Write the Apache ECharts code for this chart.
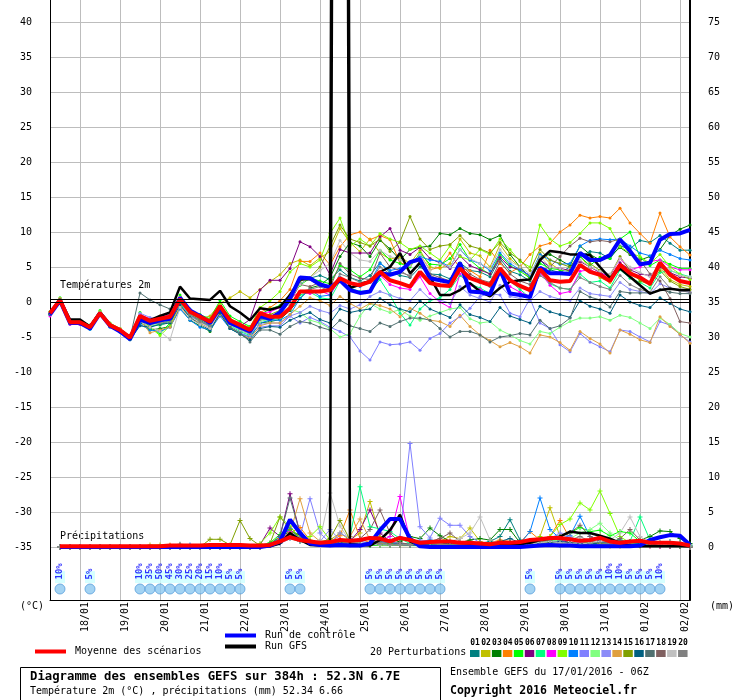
<!DOCTYPE html>
<html>
<head>
<meta charset="utf-8">
<title>Diagramme des ensembles GEFS</title>
<script src="https://cdn.jsdelivr.net/npm/echarts@6/dist/echarts.min.js"></script>
<style>
html,body{margin:0;padding:0;background:#fff;}
#chart{width:740px;height:700px;}
</style>
</head>
<body>
<div id="chart"></div>
<script>
// ---------- axes / ticks ----------
const days = ['17/01','18/01','19/01','20/01','21/01','22/01','23/01','24/01','25/01','26/01','27/01','28/01','29/01','30/01','31/01','01/02','02/02'];
const hours = ['00Z','06Z','12Z','18Z'];
const tempTicks = [-35,-30,-25,-20,-15,-10,-5,0,5,10,15,20,25,30,35,40];
const precipTicks = [0,5,10,15,20,25,30,35,40,45,50,55,60,65,70,75];
const zeroLines = [0, 0.36];

// ---------- main runs (temperature, °C) ----------
const meanTemp = [-1.6,0.3,-2.9,-2.9,-3.6,-1.6,-3.3,-4.0,-5.1,-2.0, -2.7,-2.4,-2.1,0.4,-1.4,-2.1,-2.8,-0.6,-2.6,-3.3, -4.0,-1.6,-2.1,-2.1,-0.9,1.5,1.5,1.5,1.7,3.4, 2.7,2.4,2.9,4.3,3.1,2.7,2.2,4.3,2.7,2.4, 2.3,4.8,3.4,2.9,2.4,4.8,3.1,2.3,1.7,4.7, 3.1,2.9,3.0,5.3,4.3,3.9,3.0,5.3,4.1,3.5, 2.6,5.6,3.9,3.0,2.7];
const controlTemp = [-1.8,0.2,-3.0,-3.0,-3.8,-1.6,-3.4,-4.2,-5.3,-2.5,-3.0,-2.6,-2.4,0.6,-1.2,-2.0,-3.0,-0.8,-3.0,-3.6,-4.2, -2.0,-2.4,-1.5,0.5,3.5,3.4,2.5,2.1,3.1,1.7,1.3,1.5,4.1,3.9,4.3,5.7,6.1,3.4,3.1,2.8, 5.6,1.5,1.4,1.1,4.6,1.2,1.0,0.7,4.9,4.1,4.1,4.0,7.0,6.0,6.0,6.7,8.9,7.3,5.4,5.6,8.9,9.7,9.8,10.3];
const gfsTemp = [-1.5,0.4,-2.5,-2.5,-3.5,-1.5,-3.3,-4.0,-5.0,-2.2,-2.6,-2.0,-1.5,2.2,0.5,0.4,0.3,1.6,-0.6,-1.5,-2.6, -0.9,-1.1,-0.7,1.0,3.2,3.3,2.5,2.0,400,2.0,2.5,3.0,4.3,5.0,7.0,4.1,5.6,3.6,1.0,1.0, 1.7,2.7,1.5,0.8,2.0,2.9,3.1,3.2,6.0,7.3,7.1,6.8,6.8,6.7,5.0,3.4,4.8,3.6,2.4,1.2,1.7,1.9,1.7,1.7];

// ---------- main runs (precipitation, mm) ----------
const meanPrecip = [null, 0.1,0.1,0.1,0.1,0.1,0.1,0.1,0.1,0.1,0.1, 0.1,0.2,0.2,0.2,0.2,0.3,0.3,0.3,0.3,0.2, 0.2,0.3,0.8,1.4,1.0,0.8,0.6,0.7,1.0,0.9, 1.0,1.3,1.2,0.8,1.3,1.0,0.6,0.7,0.8,0.8, 0.6,0.6,0.5,0.4,0.6,0.6,0.7,1.0,1.1,1.3, 1.3,1.1,0.9,1.0,1.3,0.8,0.6,0.8,0.9,0.6, 0.6,0.6,0.5,0.2];
const controlPrecip = [null, 0,0,0,0,0,0,0,0,0,0, 0,0,0,0,0,0,0,0,0,0, 0,0.2,0.8,3.9,2.0,0.5,0.3,0.2,0.3,0.2, 0.2,0.5,2.4,4.0,4.0,1.2,0.1,0,0,0, 0,0,0,0,0,0,0,0.1,0.2,0.3, 0.2,0.2,0.1,0.1,0.1,0.1,0.1,0.1,0.2,1.0, 1.4,1.7,1.6,0.3];
const gfsPrecip = [null, 0,0,0,0,0,0,0,0,0,0, 0,0,0,0,0,0,0,0,0,0, 0,0.1,0.5,2.0,1.0,0.3,0.2,0.4,400,0.4, 0.3,0.2,1.0,2.4,4.6,0.8,0.2,0.1,0.1,0.1, 0.1,0.2,0.2,0.2,0.3,0.3,0.4,0.6,1.0,1.2, 1.5,2.2,2.0,2.0,1.6,1.2,0.6,0.2,0.1,0.1, 0.1,0.1,0.1,0.1];

// ---------- 20 perturbations (temperature) ----------
const pert01Temp = [-1.7,0.2,-3.1,-3.2,-3.9,-1.8,-3.5,-4.2,-5.3,-3.0,-3.5,-3.2,-2.8,0.0,-1.0,-2.3,-3.4,-1.0,-3.2,-4.0,-4.6, -2.4,-2.0,-1.8,0.5,2.6,3.4,3.8,3.2,4.6,3.5,3.0,3.8,5.6,4.2,3.8,3.5,5.0,4.0,3.9,3.3, 5.6,4.5,4.3,3.6,6.2,4.4,3.9,3.0,6.0,4.6,4.2,5.0,6.5,7.2,7.0,6.2,8.0,7.6,8.8,8.5,9.5,8.4,7.4,7.4];
const pert02Temp = [-1.5,0.4,-2.8,-2.8,-3.4,-1.5,-3.2,-3.9,-4.9,-2.4,-3.2,-2.6,-1.8,0.8,-1.6,-2.4,-2.0,-0.2,0.6,1.5,0.6, 1.8,2.9,3.9,5.5,6.0,5.2,6.3,7.2,10.5,8.5,7.2,9.0,7.0,6.1,6.5,5.5,7.4,5.0,4.8,5.5, 9.0,7.0,6.6,5.0,8.2,6.2,5.0,3.2,7.0,5.5,4.6,4.5,6.6,4.8,3.5,2.8,5.3,3.9,3.2,2.5,5.0,3.2,2.5,2.2];
const pert03Temp = [-1.6,0.3,-3.0,-3.0,-3.6,-1.7,-3.4,-4.1,-5.2,-2.8,-4.0,-3.8,-3.5,-0.8,-2.6,-3.4,-4.2,-1.6,-3.8,-4.5,-5.0, -3.0,-2.8,-2.5,-1.2,0.5,2.0,2.4,3.5,6.5,8.5,8.0,6.5,8.8,7.6,6.0,7.5,7.8,8.0,9.8,9.6, 10.5,9.8,9.6,8.9,9.5,6.8,5.0,3.5,6.5,6.8,6.0,5.2,8.0,6.8,6.0,6.5,7.8,6.8,6.0,6.5,7.5,9.5,10.4,11.0];
const pert04Temp = [-1.6,0.3,-2.9,-3.0,-3.7,-1.5,-3.2,-4.0,-5.1,-2.2,-2.8,-2.0,-2.4,0.2,-1.8,-2.6,-3.0,-0.4,-2.4,-3.0,-3.8, -1.5,-0.8,0.2,1.8,5.8,5.8,7.0,5.3,7.9,9.6,10.0,8.9,9.5,8.9,5.6,5.2,6.8,4.6,5.0,7.0, 4.8,4.5,3.6,7.4,5.5,4.2,5.0,6.8,8.0,8.4,10.0,11.0,12.4,12.0,12.2,12.0,13.4,11.3,9.8,8.4,12.7,9.3,7.9,6.7];
const pert05Temp = [-1.4,0.6,-2.6,-2.7,-3.3,-1.2,-3.0,-3.8,-4.9,-1.5,-3.8,-4.5,-3.0,1.0,-1.2,-1.8,-2.4,0.2,-2.0,-2.8,-3.5, -1.8,-1.0,-0.5,0.8,2.4,3.4,3.0,2.6,5.2,4.6,3.6,4.6,7.4,6.0,5.5,5.0,7.0,5.4,5.3,6.2, 8.2,6.0,4.8,4.0,6.8,5.2,4.4,3.4,5.5,4.8,4.6,4.4,6.5,5.2,6.4,6.2,9.0,10.0,6.4,5.2,6.0,5.4,4.8,4.8];
const pert06Temp = [-1.6,0.3,-2.9,-2.9,-3.6,-1.6,-3.3,-4.0,-5.1,-2.2,-2.9,-2.5,-2.2,0.3,-1.4,-2.2,-2.9,-0.6,-2.8,-3.5,-2.5, 1.7,3.1,3.1,4.8,8.6,7.9,6.5,3.9,7.5,7.0,7.0,7.0,9.3,10.5,7.4,6.8,7.8,6.2,5.6,4.8, 6.6,5.2,4.6,4.0,6.4,5.0,4.6,3.8,6.0,5.0,4.8,4.5,5.8,5.0,4.2,3.6,5.6,4.6,4.0,3.8,5.0,4.2,3.6,3.4];
const pert07Temp = [-1.7,0.2,-3.0,-3.1,-3.8,-1.8,-3.5,-4.1,-5.2,-2.6,-3.0,-3.2,-2.6,-0.2,-2.0,-2.8,-3.5,-1.2,-3.4,-4.2,-4.8, -2.5,-2.6,-2.3,-0.8,1.0,1.4,0.6,0.4,3.0,2.0,1.5,1.6,3.2,1.0,-1.6,-3.3,-1.0,0.2,0.6,1.8, 3.8,2.6,2.0,1.2,4.6,3.0,1.8,0.6,4.2,2.6,2.0,1.8,4.0,2.8,3.0,2.0,4.6,3.4,2.8,2.0,4.2,4.5,4.0,3.6];
const pert08Temp = [-2.0,0.0,-3.2,-3.2,-3.8,-1.8,-3.5,-4.2,-5.3,-1.8,-2.4,-2.2,-1.8,0.6,-1.2,-1.9,-2.6,-0.4,-2.4,-3.1,-3.8, -1.6,-1.4,-0.8,0.6,1.4,1.2,1.6,1.0,3.2,1.8,1.3,1.5,3.8,2.5,2.0,1.8,3.6,1.2,0.0,-0.8, 4.0,2.4,1.8,1.0,4.0,2.2,1.4,0.8,4.2,2.4,1.2,1.5,4.4,4.6,4.0,3.8,6.2,4.6,5.0,5.8,6.0,5.0,4.6,4.6];
const pert09Temp = [-1.4,0.5,-2.7,-2.8,-3.5,-1.4,-3.1,-3.8,-5.0,-2.6,-3.6,-4.8,-3.4,0.0,-1.5,-2.0,-2.5,-0.2,-2.4,-3.2,-3.6, -0.8,0.2,1.5,4.3,5.5,5.0,6.0,9.8,12.0,8.0,9.0,8.0,9.8,9.0,8.5,7.5,8.0,7.0,6.0,8.0, 6.5,6.0,7.5,6.8,9.0,7.5,5.8,5.0,11.0,9.0,8.0,8.5,9.8,11.3,11.3,10.5,7.9,7.0,6.5,5.5,6.8,5.0,4.0,3.2];
const pert10Temp = [-1.8,0.1,-3.1,-3.1,-3.9,-1.9,-3.6,-4.3,-5.4,-3.2,-4.0,-4.2,-3.6,-1.0,-2.6,-3.6,-4.0,-2.0,-3.8,-4.5,-5.0, -3.0,-2.6,-2.6,-1.8,0.5,1.8,0.8,1.0,3.5,2.6,2.2,2.8,5.5,4.5,4.8,5.6,6.5,6.0,5.8,5.0, 7.5,6.0,5.5,4.5,7.0,5.5,4.6,3.8,6.8,6.0,5.4,5.5,8.0,8.8,9.0,8.9,9.0,8.0,7.0,6.6,7.4,6.8,6.2,6.0];
const pert11Temp = [-1.7,0.2,-3.0,-3.0,-3.7,-1.7,-3.4,-4.1,-5.2,-2.0,-2.8,-2.6,-2.6,-0.4,-2.0,-2.8,-3.6,-1.4,-3.6,-4.4,-5.0, -3.6,-3.4,-3.4,-2.0,-3.0,-2.2,-2.8,-3.6,-4.2,-5.0,-7.0,-8.3,-5.7,-6.1,-6.0,-5.7,-6.9,-5.2,-4.5,-3.0, -2.1,-0.9,0.8,1.2,1.0,-1.6,-2.1,0.5,-3.0,-3.8,-6.1,-7.1,-4.5,-5.7,-6.4,-7.1,-4.0,-4.2,-5.0,-5.7,-2.8,-3.3,-4.7,-5.7];
const pert12Temp = [-1.5,0.4,-2.8,-2.9,-3.5,-1.5,-3.2,-3.9,-5.0,-2.2,-3.2,-3.4,-2.8,0.2,-1.8,-2.6,-3.2,-0.8,-2.8,-3.6,-4.2, -2.8,-2.4,-2.2,-1.0,-1.5,-2.6,-3.0,-3.8,-5.0,-4.5,-2.0,-0.2,-1.0,-1.5,-1.1,-2.0,-2.6,-2.0,-1.5,-1.0, -0.8,-2.4,-3.0,-2.8,-4.0,-4.7,-5.5,-6.0,-4.2,-4.5,-3.6,-2.8,-2.3,-2.3,-2.1,-2.6,-1.9,-2.2,-3.0,-3.8,-2.3,-3.2,-4.5,-5.0];
const pert13Temp = [-1.6,0.3,-2.9,-2.9,-3.6,-1.6,-3.3,-4.0,-5.1,-1.6,-2.2,-2.5,-2.3,0.2,-1.6,-2.2,-2.8,-1.0,-3.0,-3.8,-4.5, -3.2,-3.0,-3.0,-2.0,-1.5,-0.6,-1.2,-1.6,-0.5,-1.0,-0.4,0.8,1.5,1.0,0.5,0.2,1.8,0.4,0.3,-0.2, 2.2,1.0,0.5,0.0,2.4,0.8,0.5,0.2,1.5,0.8,0.4,0.2,2.0,1.2,1.0,0.8,2.8,1.8,1.5,1.2,2.6,2.0,1.6,1.4];
const pert14Temp = [-1.5,0.5,-2.7,-2.8,-3.4,-1.4,-3.1,-3.8,-4.9,-2.6,-4.4,-4.0,-3.6,-0.6,-2.2,-3.0,-3.8,-1.8,-3.6,-4.6,-5.2, -3.4,-3.0,-3.0,-1.8,-0.6,0.6,0.2,-0.5,0.8,-0.2,-1.0,-0.2,-0.5,-1.0,-2.1,-0.9,-1.6,-2.6,-2.8,-3.5, -1.9,-3.5,-4.7,-5.5,-6.4,-5.8,-6.4,-7.3,-4.7,-5.0,-5.8,-6.9,-4.2,-5.2,-6.0,-7.3,-4.0,-4.6,-5.4,-5.8,-2.1,-3.5,-4.6,-5.9];
const pert15Temp = [-1.6,0.4,-2.8,-2.8,-3.5,-1.5,-3.2,-3.9,-5.0,-2.0,-2.8,-2.8,-2.6,0.0,-1.6,-2.4,-3.0,-0.8,-3.0,-3.6,-4.2, -2.2,-1.8,-1.2,1.0,3.0,3.5,5.0,8.0,11.0,9.0,8.5,8.0,9.0,7.2,8.6,12.2,9.0,7.5,8.0,8.2, 9.5,8.0,7.6,7.0,8.5,7.0,6.0,4.5,7.5,6.0,5.5,5.0,7.0,5.5,4.5,3.8,6.5,4.5,3.0,2.5,4.5,3.0,2.2,1.8];
const pert16Temp = [-1.8,0.1,-3.1,-3.1,-3.8,-1.8,-3.5,-4.3,-5.4,-3.4,-3.6,-3.2,-3.0,-0.4,-2.2,-3.2,-4.0,-1.6,-3.8,-4.6,-5.4, -3.8,-3.5,-3.6,-2.6,-2.0,-1.5,-2.5,-3.0,-1.0,-1.5,-1.2,-1.0,0.5,-0.4,-1.0,-1.4,0.2,-1.0,-1.6,-2.2, -0.4,-1.8,-2.2,-2.8,-0.8,-2.0,-2.5,-3.0,-0.6,-1.4,-1.8,-2.2,0.2,-0.6,-1.0,-1.6,1.0,0.0,-0.5,-0.8,0.6,-0.2,-1.0,-1.4];
const pert17Temp = [-1.7,0.2,-3.0,-3.0,-3.7,-1.7,-3.4,-4.1,-5.2,1.3,0.3,-0.4,-1.0,0.4,-1.8,-2.6,-3.4,-1.2,-3.6,-4.4,-5.7, -4.0,-4.0,-4.6,-3.5,-2.8,-3.0,-3.6,-4.0,-2.6,-3.4,-3.8,-4.2,-3.0,-3.5,-2.8,-2.3,-2.3,-2.6,-3.8,-5.0, -4.2,-4.2,-4.7,-5.7,-5.0,-4.8,-4.5,-4.7,-2.6,-3.8,-3.4,-2.3,1.5,0.7,0.3,-0.7,1.5,1.3,1.3,1.3,1.8,1.4,1.2,1.2];
const pert18Temp = [-1.6,0.3,-2.9,-2.9,-3.6,-1.6,-3.3,-4.0,-5.1,-2.4,-3.0,-2.8,-2.4,0.1,-1.6,-2.4,-3.0,-0.8,-2.8,-3.5,-4.2, -2.2,-2.0,-1.6,0.0,2.5,2.2,2.8,2.0,5.5,4.0,3.4,3.2,7.0,5.0,4.5,3.6,6.0,4.0,3.5,3.0, 5.5,4.0,3.2,2.8,5.8,4.0,3.0,2.5,4.5,5.0,6.5,8.0,9.1,8.6,8.8,8.6,9.0,7.0,6.0,4.0,3.0,0.5,-2.8,-3.0];
const pert19Temp = [-1.5,0.4,-2.8,-2.8,-3.5,-1.5,-3.2,-3.9,-5.0,-2.8,-3.6,-4.2,-5.4,-0.8,-2.4,-3.2,-3.8,-1.2,-3.2,-4.0,-4.6, -2.6,-2.2,-1.5,0.5,2.5,3.5,4.5,5.5,8.8,7.0,6.0,5.8,7.4,6.5,6.0,5.2,6.8,4.5,5.5,5.0, 7.5,6.2,5.5,4.8,7.5,5.8,5.0,4.0,6.5,5.0,4.8,4.2,6.0,5.0,4.4,4.0,6.2,5.0,4.2,3.6,5.5,4.6,3.8,3.6];
const pert20Temp = [-1.6,0.3,-3.0,-3.0,-3.8,-1.8,-3.5,-4.2,-5.2,-2.6,-3.2,-3.0,-2.8,0.0,-1.8,-2.8,-3.4,-0.8,-3.0,-3.8,-4.5, -2.5,-2.4,-2.0,-0.5,1.5,1.8,2.2,1.5,4.0,3.5,2.8,3.0,5.0,4.0,4.2,3.8,5.6,3.8,3.2,2.6, 5.0,3.6,2.8,2.2,4.8,3.2,2.4,1.5,3.8,2.8,2.0,1.8,3.5,2.8,2.2,1.8,3.8,2.5,1.8,1.4,3.6,2.0,1.6,1.4];

// ---------- 20 perturbations (precipitation) ----------
const pert01Precip = [null, 0,0,0,0,0,0,0,0,0,0, 0,0,0.1,0.1,0,0,0,0,0,0, 0,0.2,0.8,1.6,1.2,0.6,0.4,0.8,0.6,0.5, 0.3,0.4,0.6,0.5,0.3,0.2,0.4,0.6,0.8,0.5, 0.3,0.2,0.5,0.8,1.5,3.9,1.0,0.4,0.5,0.8, 1.0,0.6,0.4,0.8,0.5,0.3,0.6,0.8,0.5,0.4, 0.6,0.8,0.5,0.3];
const pert02Precip = [null, 0,0,0,0,0,0,0,0,0,0.3, 0.3,0.2,0.1,0,0,0,0,0,0,0, 0,0.5,1.5,2.5,1.2,0.6,0.8,1.0,2.0,1.0, 2.0,6.5,1.5,0.5,0.3,0.2,0.5,0.6,0.8,1.5, 1.2,2.7,0.8,0.3,0.2,0.2,0.3,0.5,1.5,5.6, 1.5,0.5,0.3,0.2,0.2,0.1,0.1,0.2,0.1,0.1, 0.1,0.1,0.1,0];
const pert03Precip = [null, 0,0,0,0,0,0,0,0,0,0, 0,0,0,0,0,0,0,0,0,0, 0,0.3,1.5,2.2,1.8,0.8,0.5,0.6,1.0,0.8, 0.5,0.3,0.3,0.5,0.8,1.5,1.2,2.7,1.6,0.8, 0.6,1.0,1.2,1.0,2.5,2.5,0.6,0.3,0.5,0.4, 0.3,0.4,0.5,0.6,0.5,0.4,0.6,0.8,1.0,1.5, 2.3,2.2,1.2,0.5];
const pert04Precip = [null, 0,0,0,0,0,0,0,0,0,0, 0,0,0,0,0,0,0,0,0,0, 0,0.4,1.2,2.0,2.8,1.0,0.6,0.8,1.6,5.3, 1.2,0.6,0.4,0.3,0.2,0.2,0.3,0.4,0.3,0.2, 0.2,0.3,0.5,0.6,1.0,0.8,0.6,2.2,1.0,1.5, 3.8,1.2,0.6,0.8,1.2,0.6,0.4,0.3,0.2,0.2, 0.2,0.1,0.1,0];
const pert05Precip = [null, 0,0,0,0,0,0,0,0,0,0, 0,0,0,0,0,0,0,0,0,0, 0.2,0.6,1.8,2.5,1.4,0.8,0.5,0.6,0.8,0.5, 0.4,0.3,0.2,0.2,0.3,0.2,0.2,0.3,0.2,0.2, 0.2,0.3,0.2,0.2,0.3,0.3,0.2,0.5,1.2,1.0, 1.5,2.0,2.8,2.2,2.4,1.6,2.2,2.0,0.8,0.5, 0.4,0.3,0.2,0.1];
const pert06Precip = [null, 0,0,0,0,0,0,0,0,0,0, 0,0,0,0,0,0,0,0,0,0, 0.3,2.7,1.5,7.6,2.0,0.8,0.6,0.5,1.0,0.8, 2.5,5.3,2.0,0.8,0.4,0.3,0.3,0.2,0.2,0.2, 0.2,0.2,0.3,0.2,0.2,0.3,0.4,0.6,0.8,1.2, 1.0,0.6,0.4,0.3,0.5,0.3,0.2,0.2,0.2,0.2, 0.1,0.1,0.1,0];
const pert07Precip = [null, 0,0,0,0,0,0,0,0,0,0, 0,0,0,0,0,0,0,0,0,0, 0,0.2,0.6,1.2,0.8,0.5,0.4,0.6,0.5,1.5, 8.6,2.9,2.6,2.2,1.2,0.5,0.3,0.2,0.2,0.2, 0.2,0.3,0.2,0.2,0.3,0.2,0.2,0.4,0.6,0.8, 0.6,1.2,0.8,0.5,0.6,0.8,0.6,0.8,4.3,1.0, 0.4,0.3,0.2,0.1];
const pert08Precip = [null, 0,0,0,0,0,0,0,0,0,0, 0,0,0,0,0,0,0,0,0,0, 0,0.3,0.8,2.2,1.0,0.5,0.4,0.3,0.4,0.3, 0.4,0.5,0.8,1.5,7.2,1.0,0.3,0.2,0.2,0.2, 0.2,0.2,0.2,0.2,0.3,0.3,0.3,0.5,0.6,1.2, 0.8,1.0,0.6,0.4,0.3,0.3,0.2,0.2,0.2,0.1, 0.1,0.1,0.1,0];
const pert09Precip = [null, 0,0,0,0,0,0,0,0,0,0, 0,0,0,0,0,0,0,0,0,0, 0.5,2.0,4.3,3.0,1.2,1.5,2.9,1.0,0.6,0.5, 0.4,0.3,0.5,0.6,0.4,0.3,0.4,0.3,0.3,0.3, 0.3,0.3,0.3,0.4,0.5,0.6,0.6,0.8,1.0,1.5, 3.2,4.0,6.3,5.3,8.0,4.8,1.5,0.6,0.4,0.3, 0.2,0.2,0.1,0.1];
const pert10Precip = [null, 0,0,0,0,0,0,0,0,0,0, 0,0,0,0.3,0,0,0,0,0,0, 0,0.4,1.4,2.6,1.0,0.5,0.4,0.5,0.6,0.4, 0.5,0.6,0.8,0.6,0.4,0.3,0.8,1.0,0.8,0.6, 0.4,0.3,0.5,0.4,0.3,0.4,0.5,2.2,7.0,2.5, 1.2,1.6,4.4,1.5,0.8,0.5,0.4,0.3,0.3,0.2, 0.2,0.2,0.1,0.1];
const pert11Precip = [null, 0,0,0,0,0,0,0,0,0,0, 0,0,0,0,0,0,0,0,0,0, 0,0.2,0.5,1.2,1.5,6.9,2.0,0.6,2.0,1.2, 0.8,0.6,0.8,1.0,1.5,14.8,2.9,1.3,4.1,3.1, 3.1,1.5,0.6,0.4,0.3,0.3,0.4,0.5,0.6,0.5, 0.4,0.5,0.6,0.4,0.3,0.3,0.3,0.2,0.2,0.2, 0.2,0.2,0.1,0];
const pert12Precip = [null, 0,0,0,0,0,0,0,0,0,0, 0,0,0,0,0,0,0,0,0,0, 0,0.2,0.8,1.5,1.0,0.6,0.4,0.3,0.4,0.3, 0.3,0.4,0.3,0.3,0.2,0.2,0.2,0.2,0.2,0.2, 0.2,0.2,0.3,0.3,0.4,0.4,0.3,0.5,0.6,0.8, 1.0,1.2,2.0,2.5,3.4,2.0,1.0,0.6,0.4,0.3, 0.3,0.2,0.1,0.1];
const pert13Precip = [null, 0,0,0,0,0,0,0,0,0,0, 0,0,0,0,0,0,0,0,0,0, 0,0.2,0.6,1.4,1.0,0.6,0.8,2.5,1.0,0.6, 0.5,0.4,0.6,0.8,0.5,0.4,1.0,0.8,0.6,0.5, 0.4,0.5,0.6,0.5,0.4,0.5,0.6,0.8,1.0,1.2, 2.0,1.5,0.8,0.6,0.5,0.4,0.3,0.3,0.2,0.2, 0.2,0.2,0.1,0];
const pert14Precip = [null, 0,0,0,0,0,0,0,0,0,0, 0,0.3,0.3,0,0,0,0,0,0,0, 0,0.2,1.0,2.0,6.9,2.0,0.8,0.6,0.5,1.5, 4.0,1.0,0.5,0.4,0.3,0.3,0.4,0.3,0.3,0.3, 0.3,0.4,0.3,0.3,0.4,0.5,0.4,0.6,0.8,0.6, 0.5,0.6,0.8,1.0,1.6,0.8,0.5,0.4,0.3,0.2, 0.2,0.2,0.1,0];
const pert15Precip = [null, 0,0,0,0,0,0,0,0,0,0, 0,0,0,0,0,1.1,1.1,0.3,3.8,1.2, 0.2,0.5,4.3,2.5,1.4,0.8,0.6,1.2,3.8,1.0, 0.5,0.4,0.3,0.3,0.2,0.3,0.4,0.5,0.6,0.4, 0.3,0.4,0.5,0.4,0.3,0.4,0.5,0.6,0.8,1.0, 1.2,1.0,0.8,0.6,0.5,0.4,0.3,0.3,0.3,0.2, 0.2,0.2,0.1,0];
const pert16Precip = [null, 0,0,0,0,0,0,0,0,0,0, 0,0,0,0,0,0,0,0,0,0, 0,0.2,0.8,1.8,0.8,0.5,0.4,0.5,0.6,0.4, 0.3,0.3,0.4,0.3,0.3,0.2,0.3,0.4,0.6,0.5, 0.4,0.3,0.3,0.4,0.8,1.2,0.6,0.4,0.5,0.6, 0.8,0.6,0.5,0.4,0.6,0.8,1.0,0.6,0.5,0.4, 0.3,0.2,0.2,0.1];
const pert17Precip = [null, 0,0,0,0,0,0,0,0,0,0, 0,0,0.4,0,0,0,0,0,0,0, 0,0.4,1.5,7.0,2.0,0.8,0.5,0.4,0.5,0.4, 0.5,0.6,0.8,0.6,0.5,0.4,0.5,0.4,0.3,0.3, 0.3,0.4,0.3,0.3,0.4,0.5,0.6,0.8,1.0,0.8, 0.6,0.5,0.4,0.4,0.3,0.3,0.3,0.2,0.2,0.2, 0.2,0.1,0.1,0];
const pert18Precip = [null, 0,0,0,0,0,0,0,0,0,0, 0,0,0,0,0,0,0,0,0,0, 0,0.3,1.0,1.8,1.0,0.6,0.5,0.4,0.5,0.6, 1.2,2.5,5.3,2.0,0.6,0.4,0.5,0.8,1.2,2.0, 0.8,0.5,0.4,0.3,0.4,0.5,0.6,0.8,1.0,1.2, 1.5,2.0,3.1,1.5,0.8,0.6,1.2,2.5,1.0,0.5, 0.4,0.3,0.2,0.1];
const pert19Precip = [null, 0,0,0,0,0,0,0,0,0,0, 0,0,0,0,0,0,0,0,0,0, 0,0.2,0.6,1.2,0.8,0.6,1.0,7.7,3.0,0.8, 0.5,0.4,0.3,0.3,0.3,0.3,0.4,0.5,0.6,0.8, 1.2,2.0,4.3,1.0,0.5,0.4,0.3,0.4,0.6,0.8, 0.6,0.5,0.4,0.6,0.8,1.0,2.0,4.3,1.5,0.6, 0.4,0.3,0.2,0.1];
const pert20Precip = [null, 0,0,0,0,0,0,0,0,0,0, 0,0,0,0,0,0,0,0,0,0, 0,0.2,0.8,1.5,1.0,0.6,0.5,0.6,0.8,0.6, 0.8,1.2,0.6,0.4,0.3,0.3,0.4,0.5,0.4,0.3, 0.3,0.3,0.4,0.3,0.3,0.4,0.5,0.6,0.8,1.0, 1.2,1.0,1.5,0.8,0.6,0.5,0.4,0.3,0.3,0.2, 0.2,0.2,0.1,0];

// ---------- snow probability (%) per step ----------
const snowPct = [null,10,null,null,5,null,null,null,null,10, 35,50,45,30,25,20,15,10,5,5, null,null,null,null,5,5,null,null,null,null, null,null,5,5,5,5,5,5,5,5, null,null,null,null,null,null,null,null,5,null, null,5,5,5,5,5,10,10,5,5, 5,10,null,null,null];

const pertNames = ['01','02','03','04','05','06','07','08','09','10','11','12','13','14','15','16','17','18','19','20'];
const pertColors = ['#008080','#c0c000','#008000','#ff8000','#00ff00','#800080','#00ff80','#ff00ff','#80ff00','#0080ff','#8080ff','#80ff80','#8c8cf8','#e0a040','#80a000','#006080','#507070','#806060','#c0c0c0','#808080'];
const pertTemps = [pert01Temp,pert02Temp,pert03Temp,pert04Temp,pert05Temp,pert06Temp,pert07Temp,pert08Temp,pert09Temp,pert10Temp,pert11Temp,pert12Temp,pert13Temp,pert14Temp,pert15Temp,pert16Temp,pert17Temp,pert18Temp,pert19Temp,pert20Temp];
const pertPrecips = [pert01Precip,pert02Precip,pert03Precip,pert04Precip,pert05Precip,pert06Precip,pert07Precip,pert08Precip,pert09Precip,pert10Precip,pert11Precip,pert12Precip,pert13Precip,pert14Precip,pert15Precip,pert16Precip,pert17Precip,pert18Precip,pert19Precip,pert20Precip];

// ---------- build chart ----------
const FONT = '"DejaVu Sans Mono", monospace';
const allSteps = [];
days.forEach(d => hours.forEach(h => allSteps.push(d + ' ' + h)));
const steps = allSteps.slice(1, 1 + meanTemp.length); // 17/01 06Z .. 02/02 06Z
const isDayStart = (i, v) => String(v).endsWith('00Z');
const plusSymbol = 'path://M4,0h2v4h4v2h-4v4h-2v-4h-4v-2h4z';

const series = [];
pertTemps.forEach((d, i) => series.push({
  name: 'Perturbation ' + pertNames[i], type: 'line', yAxisIndex: 0, data: d,
  symbol: 'circle', symbolSize: 3, showAllSymbol: true, silent: true, z: 2,
  lineStyle: { width: 1, color: pertColors[i] }, itemStyle: { color: pertColors[i] }
}));
pertPrecips.forEach((d, i) => series.push({
  name: 'Perturbation ' + pertNames[i], type: 'line', yAxisIndex: 1, data: d,
  symbol: plusSymbol, symbolSize: 5, showAllSymbol: true, silent: true, z: 2,
  lineStyle: { width: 1, color: pertColors[i] }, itemStyle: { color: pertColors[i] }
}));
function mainRun(name, data, axis, color, width) {
  return { name, type: 'line', yAxisIndex: axis, data, symbol: 'none', silent: true, z: 3,
    lineStyle: { width, color }, itemStyle: { color } };
}
series.push(mainRun('Run GFS', gfsTemp, 0, '#000000', 2.5));
series.push(mainRun('Run GFS', gfsPrecip, 1, '#000000', 2.5));
series.push(mainRun('Run de contrôle', controlTemp, 0, '#0000ff', 4));
series.push(mainRun('Run de contrôle', controlPrecip, 1, '#0000ff', 4));
const meanT = mainRun('Moyenne des scénarios', meanTemp, 0, '#ff0000', 4);
meanT.markLine = { silent: true, symbol: 'none', label: { show: false }, animation: false,
  lineStyle: { color: '#000', width: 1, type: 'solid' }, data: zeroLines.map(v => ({ yAxis: v })) };
series.push(meanT);
series.push(mainRun('Moyenne des scénarios', meanPrecip, 1, '#ff0000', 4));

const snowPoints = [];
snowPct.forEach((p, i) => { if (p != null) snowPoints.push([i, -41, p]); });
series.push({ name: 'snow band', type: 'scatter', yAxisIndex: 0, silent: true, z: 4,
  symbol: 'rect', symbolSize: [10, 12], itemStyle: { color: '#ccffff' },
  data: snowPoints.map(s => [s[0], -39.3, s[2]]) });
series.push({ name: 'snow', type: 'scatter', yAxisIndex: 0, silent: true, z: 5,
  symbol: 'circle', symbolSize: 10,
  itemStyle: { color: '#8cc8f0', borderColor: '#5aa0dc', borderWidth: 1 },
  label: { show: true, position: 'top', distance: 4, rotate: 90, align: 'left', verticalAlign: 'middle',
    formatter: p => p.value[2] + '%', color: '#0000ff', fontSize: 9, fontWeight: 'bold', fontFamily: FONT },
  data: snowPoints });

const graphics = [];
function txt(text, x, y, font, extra) {
  graphics.push(Object.assign({ type: 'text', x, y, silent: true,
    style: { text, font, fill: '#000', textVerticalAlign: 'middle', verticalAlign: 'middle', textAlign: 'left', align: 'left' } }, extra || {}));
}
txt('Températures 2m', 60, 285, '10px ' + FONT);
txt('Précipitations', 60, 536, '10px ' + FONT);
txt('(°C)', 20, 606, '10px ' + FONT);
txt('(mm)', 710, 606, '10px ' + FONT);
txt('20 Perturbations', 370, 652, '10px ' + FONT);
pertColors.forEach((c, i) => {
  const x = 470 + i * 10.95;
  graphics.push({ type: 'rect', silent: true, shape: { x, y: 650, width: 9.5, height: 7 }, style: { fill: c } });
  graphics.push({ type: 'text', silent: true, x: x + 5, y: 643,
    style: { text: pertNames[i], font: 'bold 8px ' + FONT, fill: '#000', textAlign: 'center', align: 'center', textVerticalAlign: 'middle', verticalAlign: 'middle' } });
});
graphics.push({ type: 'rect', silent: true, shape: { x: 20.5, y: 667.5, width: 420, height: 40 }, style: { fill: '#fff', stroke: '#000', lineWidth: 1 } });
txt('Diagramme des ensembles GEFS sur 384h : 52.3N 6.7E', 30, 677, 'bold 12.3px ' + FONT);
txt('Température 2m (°C) , précipitations (mm) 52.34 6.66', 30, 691, '10px ' + FONT);
txt('Ensemble GEFS du 17/01/2016 - 06Z', 450, 672, '10px ' + FONT);
txt('Copyright 2016 Meteociel.fr', 450, 691, 'bold 11.5px ' + FONT);

const legendText = { fontFamily: FONT, fontSize: 10, color: '#000', lineHeight: 11, padding: [0, 0, 0, 4] };
const option = {
  animation: false,
  backgroundColor: '#ffffff',
  grid: { left: 50, right: 50, top: 0, bottom: 100 },
  legend: [
    { data: ['Run de contrôle', 'Run GFS'], orient: 'vertical', left: 225, top: 630, itemGap: 0,
      itemWidth: 31, itemHeight: 4, icon: 'rect', selectedMode: false, textStyle: legendText, padding: 0 },
    { data: ['Moyenne des scénarios'], left: 35, top: 646, itemWidth: 31, itemHeight: 4, icon: 'rect',
      selectedMode: false, textStyle: legendText, padding: 0 }
  ],
  xAxis: {
    type: 'category', data: steps, boundaryGap: false,
    axisLine: { onZero: false, lineStyle: { color: '#000', width: 1 } },
    axisTick: { show: false },
    axisLabel: { interval: isDayStart, rotate: 90, margin: 2, verticalAlign: 'top',
      formatter: v => v.slice(0, 5), color: '#000', fontSize: 10, fontFamily: FONT },
    splitLine: { show: true, interval: isDayStart, lineStyle: { color: '#bdbdbd', width: 1 } }
  },
  yAxis: [
    { type: 'value', position: 'left', min: -42.5714, max: 43.1429,
      axisLine: { show: true, lineStyle: { color: '#000', width: 1 } },
      axisTick: { show: false, customValues: tempTicks },
      axisLabel: { customValues: tempTicks, margin: 18, color: '#000', fontSize: 10, fontFamily: FONT },
      splitLine: { show: true, lineStyle: { color: '#bdbdbd', width: 1 } } },
    { type: 'value', position: 'right', min: -7.5714, max: 78.1429,
      axisLine: { show: true, lineStyle: { color: '#000', width: 2 } },
      axisTick: { show: false, customValues: precipTicks },
      axisLabel: { customValues: precipTicks, margin: 18, color: '#000', fontSize: 10, fontFamily: FONT },
      splitLine: { show: false } }
  ],
  graphic: graphics,
  series
};
const chart = echarts.init(document.getElementById('chart'));
chart.setOption(option);
</script>
</body>
</html>
